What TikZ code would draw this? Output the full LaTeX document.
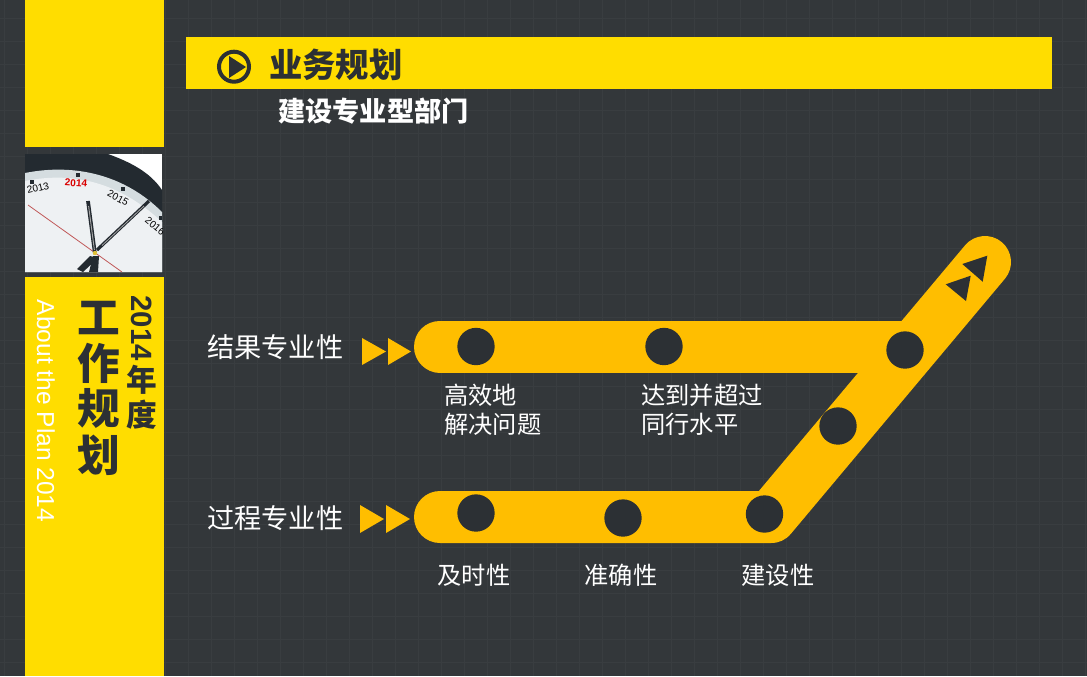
\documentclass[tikz,border=0pt]{standalone}
\usepackage{fontspec}
\setmainfont{Noto Sans CJK SC}
\newfontfamily\latinf{Liberation Sans}
\definecolor{bgdark}{HTML}{33373A}
\definecolor{gridc}{HTML}{393D40}
\definecolor{ylw}{HTML}{FFDD00}
\definecolor{band}{HTML}{FFBE00}
\definecolor{ink}{HTML}{2C3034}
\definecolor{rim}{HTML}{232A30}
\definecolor{faceA}{HTML}{D5DDE0}
\definecolor{faceB}{HTML}{EEF1F3}
\tikzset{
 lab/.style={text=white,font=\fontsize{20.4pt}{24pt}\selectfont,anchor=west,inner sep=0,align=left},
 sublab/.style={text=white,font=\fontsize{18.2pt}{22pt}\selectfont,inner sep=0,align=left},
 bandline/.style={draw=band,line width=39pt,line join=round,line cap=round},
 stackA/.style={inner sep=0,text=ink,font=\fontsize{32pt}{36pt}\selectfont\bfseries},
 stackB/.style={inner sep=0,text=ink,font=\fontsize{23pt}{26pt}\selectfont\bfseries},
 clockyear/.style={inner sep=0,text=black,font=\latinf\fontsize{7.5pt}{8pt}\selectfont},
 dotc/.style={circle,fill=ink,minimum size=28pt,inner sep=0},
}
\begin{document}
\begin{tikzpicture}[x=0.75pt,y=-0.75pt]
\useasboundingbox (0,0) rectangle (1087,676);
\fill[bgdark] (0,0) rectangle (1087,676);
\foreach \x in {4,27,...,1087} \draw[gridc,line width=0.6pt] (\x,0)--(\x,676);
\foreach \y in {-5,18,...,676} \draw[gridc,line width=0.6pt] (0,\y)--(1087,\y);
% side bar
\fill[ylw] (25,0) rectangle (164,147);
\fill[ylw] (25,277) rectangle (164,676);
% clock
\begin{scope}
\clip (25,154) rectangle (162,272);
\fill[white] (25,154) rectangle (162,272);
\fill[rim] (25,154) -- (108,154) .. controls (130,162) and (150,172) .. (162,190) -- (162,272) -- (25,272) -- cycle;
\fill[faceA] (25,173) .. controls (75,163) and (125,175) .. (162,212) -- (162,272) -- (25,272) -- cycle;
\fill[faceB] (25,181) .. controls (75,171) and (120,183) .. (162,222) -- (162,272) -- (25,272) -- cycle;
\fill[rim] (29.5,179.5) rectangle (33.5,183.5);
\fill[rim] (76,173) rectangle (80,177);
\fill[rim] (121,187) rectangle (125,191);
\fill[rim] (159,216) rectangle (162,220);
\draw[red!45!gray!90,line width=0.6pt] (28,205) -- (122,272);
\draw[rim,line width=2.8pt] (88,201) -- (95,254);
\draw[gray!70,line width=0.7pt] (88.6,206) -- (94.4,250);
\draw[rim,line width=2.4pt] (97,250) -- (149,201);
\draw[gray!70,line width=0.6pt] (102,245.5) -- (144,206);
\fill[rim] (90,256) -- (77,269) -- (83,272) -- (98,258) -- cycle;
\fill[rim] (93,256) -- (99,256) -- (98,272) -- (89,272) -- cycle;
\fill[yellow!50!brown] (95,253) circle (2.2);
\node[clockyear,rotate=13] (y13) at (38,188) {2013};
\node[clockyear,rotate=-4,text=red!85!black,font=\latinf\bfseries\fontsize{7.5pt}{8pt}\selectfont] (y14) at (76,183) {2014};
\node[clockyear,rotate=-28] (y15) at (118,198) {2015};
\node[clockyear,rotate=-40] (y16) at (155,226) {2016};
\end{scope}
% side text
\node[stackA] (t1a) at (98.5,318) {工};
\node[stackA] (t1b) at (98.5,363.5) {作};
\node[stackA] (t1c) at (98.5,408.5) {规};
\node[stackA] (t1d) at (98.5,455) {划};
\node[inner sep=0,rotate=-90,text=ink,font=\latinf\bfseries\fontsize{22pt}{24pt}\selectfont] (t2) at (142,328) {2014};
\node[stackB] (t2a) at (142,380) {年};
\node[stackB] (t2b) at (142,415) {度};
\node[inner sep=0,rotate=-90,text=white] (t3) at (46,411) {\latinf\fontsize{18.4pt}{22pt}\selectfont About the Plan 2014};
% header
\fill[ylw] (186,37) rectangle (1052,89);
\draw[ink,line width=3pt] (234,66.7) circle (15);
\fill[ink] (229,56) -- (246,67) -- (229,78) -- cycle;
\node[inner sep=0,anchor=west,text=ink] (h1) at (269,65) {\fontsize{25pt}{30pt}\selectfont\bfseries 业务规划};
\node[inner sep=0,anchor=west,text=white] (h2) at (278,111) {\fontsize{20.4pt}{24pt}\selectfont\bfseries 建设专业型部门};
% band
\coordinate (a1) at (440,346.5);
\coordinate (a2) at (900,346.5);
\coordinate (b1) at (440,517);
\coordinate (b2) at (771,517);
\coordinate (b3) at (985,262);
\draw[bandline] (a1) -- (a2);
\draw[bandline] (b1) -- (b2) -- (b3);
% arrowheads in band
\fill[ink] (987.3,255.7) -- (962.3,264) -- (982.7,281.7) -- cycle;
\fill[ink] (970.7,275.7) -- (945.7,284.3) -- (966,301) -- cycle;
% dots
\node[dotc] (d1) at (476,346.5) {};
\node[dotc] (d2) at (664,346.5) {};
\node[dotc] (d3) at (905,350) {};
\node[dotc] (d4) at (838,426) {};
\node[dotc] (d5) at (476,513) {};
\node[dotc] (d6) at (623,518) {};
\node[dotc] (d7) at (764.5,514) {};
% row labels
\node[lab] (r1) at (207,347) {结果专业性};
\node[lab] (r2) at (207,518) {过程专业性};
\fill[band] (362,338) -- (386,351.5) -- (362,365) -- cycle;
\fill[band] (388,338) -- (411,351.5) -- (388,365) -- cycle;
\fill[band] (360,505) -- (384,519) -- (360,533) -- cycle;
\fill[band] (386,505) -- (410,519) -- (386,533) -- cycle;
% sublabels
\node[sublab,anchor=west] (s1) at (444,410) {高效地\\解决问题};
\node[sublab,anchor=west] (s2) at (641,410) {达到并超过\\同行水平};
\node[sublab] (s3) at (474,575) {及时性};
\node[sublab] (s4) at (621,575) {准确性};
\node[sublab] (s5) at (778,575) {建设性};
\end{tikzpicture}
\end{document}
